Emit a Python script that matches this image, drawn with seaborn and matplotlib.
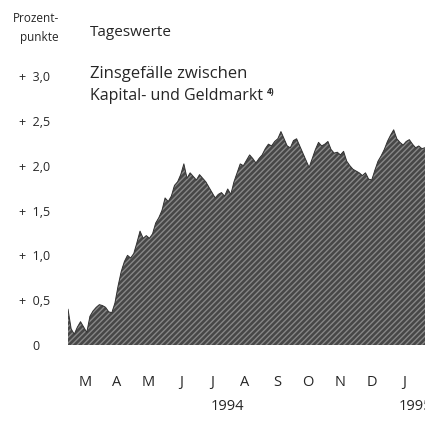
import pandas as pd
import matplotlib
matplotlib.use("Agg")
import matplotlib.pyplot as plt
import matplotlib.dates as mdates
import matplotlib.transforms as mtransforms
import seaborn as sns

START = "1994-02-27"
spread = [
    0.40, 0.18, 0.12, 0.20, 0.26, 0.20, 0.14, 0.32, 0.38, 0.42,
    0.45, 0.44, 0.42, 0.37, 0.36, 0.47, 0.66, 0.82, 0.93, 1.00,
    0.97, 1.02, 1.14, 1.27, 1.19, 1.22, 1.19, 1.24, 1.36, 1.42,
    1.50, 1.64, 1.60, 1.66, 1.78, 1.82, 1.90, 2.02, 1.86, 1.92,
    1.88, 1.84, 1.90, 1.86, 1.82, 1.76, 1.70, 1.64, 1.68, 1.70,
    1.66, 1.74, 1.68, 1.82, 1.92, 2.02, 2.00, 2.06, 2.12, 2.08,
    2.03, 2.08, 2.12, 2.19, 2.24, 2.22, 2.27, 2.30, 2.38, 2.30,
    2.22, 2.20, 2.28, 2.30, 2.22, 2.14, 2.06, 1.98, 2.08, 2.18,
    2.26, 2.22, 2.24, 2.27, 2.18, 2.14, 2.15, 2.12, 2.16, 2.05,
    2.00, 1.96, 1.94, 1.92, 1.89, 1.92, 1.85, 1.84, 1.95, 2.05,
    2.11, 2.18, 2.27, 2.34, 2.40, 2.30, 2.26, 2.23, 2.27, 2.29,
    2.24, 2.20, 2.22, 2.19, 2.20,
]

y_ticks = [0, 0.5, 1.0, 1.5, 2.0, 2.5, 3.0]
y_labels = ["0   ", "+  0,5", "+  1,0", "+  1,5", "+  2,0", "+  2,5", "+  3,0"]
month_labels = ["M", "A", "M", "J", "J", "A", "S", "O", "N", "D", "J"]
years = [("1994", "1994-07-30"), ("1995", "1995-01-26")]

df = pd.DataFrame({
    "datum": pd.date_range(START, periods=len(spread), freq="3D"),
    "wert": spread,
})

sns.set_style("white")
plt.rcParams["font.family"] = ["Open Sans", "DejaVu Sans"]
plt.rcParams["hatch.linewidth"] = 1.0

W, H = 425, 438
fig = plt.figure(figsize=(W / 100, H / 100), dpi=100)
ax = fig.add_axes([68 / W, 1 - 345 / H, 1 - 68 / W, (345 - 76) / H])

# Flaeche mit Rasterung wie im Druck
sns.lineplot(data=df, x="datum", y="wert", color="#333333", lw=0.7, ax=ax)
ax.fill_between(df["datum"], 0, df["wert"], facecolor="#474747",
                edgecolor="#878787", hatch="//////", linewidth=0)

ax.set_xlim(df["datum"].iloc[0], df["datum"].iloc[-1])
ax.set_ylim(0, 3.0)
ax.set_xlabel("")
ax.set_ylabel("")
for s in ax.spines.values():
    s.set_visible(False)

ax.set_yticks(y_ticks, y_labels)
ax.tick_params(axis="y", length=0, pad=13, labelsize=9)

ax.xaxis.set_major_locator(mdates.MonthLocator(bymonthday=15))
ax.xaxis.set_major_formatter(plt.FixedFormatter(month_labels))
ax.tick_params(axis="x", length=0, pad=27, labelsize=10.5)
for lab in ax.get_xticklabels():
    lab.set_va("center")

trans = mtransforms.blended_transform_factory(ax.transData, fig.transFigure)
for txt, d in years:
    ax.text(mdates.date2num(pd.Timestamp(d)), 1 - 407 / H, txt, transform=trans,
            ha="center", va="center", fontsize=10.5, clip_on=False)


def fpos(x, y):
    return x / W, 1 - y / H


fig.text(*fpos(59, 18), "Prozent-", ha="right", va="center", fontsize=8.5)
fig.text(*fpos(59, 37), "punkte", ha="right", va="center", fontsize=8.5)
fig.text(*fpos(90, 33), "Tageswerte", ha="left", va="center", fontsize=11)
fig.text(*fpos(90, 74), "Zinsgefälle zwischen", ha="left", va="center", fontsize=12)
zeile2 = fig.text(*fpos(90, 96), "Kapital- und Geldmarkt", ha="left",
                  va="center", fontsize=11.5)

# Fussnotenzeichen direkt hinter der zweiten Zeile
fig.canvas.draw()
bb = zeile2.get_window_extent()
fig.text((bb.x1 + 4) / W, 1 - 92 / H, "4)", ha="left", va="center",
         fontsize=6, fontweight="bold")

fig.savefig("out.png", dpi=100)
